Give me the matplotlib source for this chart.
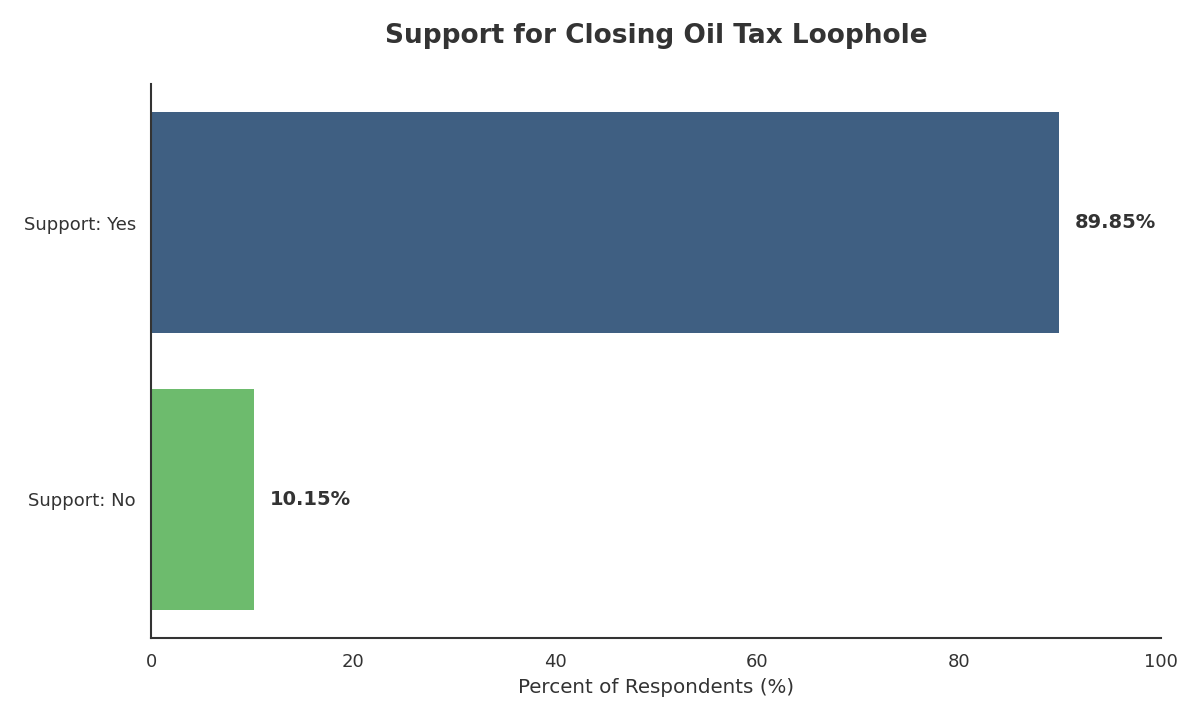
import matplotlib
matplotlib.use("Agg")
import matplotlib.pyplot as plt

# survey results
categories = ["Support: Yes", "Support: No"]
percents = [89.85, 10.15]
bar_colors = ["#3f5f82", "#6dbb6d"]
x_ticks = [0, 20, 40, 60, 80, 100]

plt.rcParams["font.family"] = ["DejaVu Sans"]
text_color = "#333333"

fig = plt.figure(figsize=(12, 7.2), dpi=100)
ax = fig.add_axes([0.126, 0.114, 0.8415, 0.769])

positions = list(range(len(categories)))
ax.barh(positions, percents, height=0.8, color=bar_colors)
ax.set_ylim(1.5, -0.5)
ax.set_xlim(0, 100)

ax.set_yticks(positions)
ax.set_yticklabels(categories)
ax.set_xticks(x_ticks)
ax.tick_params(axis="both", length=0, labelsize=13, colors=text_color)
ax.tick_params(axis="x", pad=11)
ax.tick_params(axis="y", pad=11)

# value labels next to the bars
for pos, val in zip(positions, percents):
    ax.text(val + 1.6, pos, f"{val:.2f}%", va="center", ha="left",
            fontsize=14, fontweight="bold", color=text_color)

ax.set_xlabel("Percent of Respondents (%)", fontsize=14.3, color=text_color, labelpad=5)
ax.set_title("Support for Closing Oil Tax Loophole", fontsize=19, fontweight="bold",
             color=text_color, pad=30)

for side in ["top", "right"]:
    ax.spines[side].set_visible(False)
for side in ["left", "bottom"]:
    ax.spines[side].set_color(text_color)
    ax.spines[side].set_linewidth(1.5)

fig.savefig("out.png", dpi=100, facecolor="white")
